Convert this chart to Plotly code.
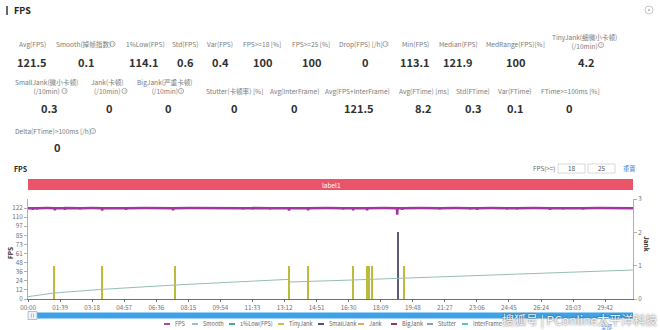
import plotly.graph_objects as go

# ---------------- data ----------------
# summary statistics (label, value)
row1_labels = ["Avg(FPS)", "Smooth(掉帧指数)", "1%Low(FPS)", "Std(FPS)", "Var(FPS)",
               "FPS>=18 [%]", "FPS>=25 [%]", "Drop(FPS) [/h]", "Min(FPS)",
               "Median(FPS)", "MedRange(FPS)[%]", "TinyJank(细微小卡顿)<br>(/10min)"]
row1_values = [121.5, 0.1, 114.1, 0.6, 0.4, 100, 100, 0, 113.1, 121.9, 100, 4.2]

row2_labels = ["SmallJank(微小卡顿)<br>(/10min)", "Jank(卡顿)<br>(/10min)",
               "BigJank(严重卡顿)<br>(/10min)", "Stutter(卡顿率) [%]", "Avg(InterFrame)",
               "Avg(FPS+InterFrame)", "Avg(FTime) [ms]", "Std(FTime)", "Var(FTime)",
               "FTime>=100ms [%]"]
row2_values = [0.3, 0, 0, 0, 0, 121.5, 8.2, 0.3, 0.1, 0]

row3_labels = ["Delta(FTime)>100ms [/h]"]
row3_values = [0]

# FPS over time (seconds)
fps_time = [0, 14, 15, 16, 27, 28, 29, 60, 82, 83, 84, 113, 114, 115, 160, 161, 162,
            200, 228, 229, 230, 260, 302, 303, 304, 360, 400, 447, 448, 449, 500, 560,
            620, 663, 664, 665, 694, 695, 696, 746, 747, 748, 805, 806, 807, 864, 865,
            866, 920, 972, 973, 974, 1003, 1004, 1005, 1046, 1047, 1048, 1100, 1139,
            1140, 1141, 1154, 1155, 1156, 1210, 1271, 1272, 1273, 1320, 1364, 1365,
            1366, 1386, 1387, 1388, 1430, 1478, 1479, 1480, 1509, 1510, 1511, 1560,
            1611, 1612, 1613, 1651, 1652, 1653, 1713, 1714, 1715, 1760, 1820, 1868]
fps_value = [121.8, 121.9, 119.6, 121.9, 121.9, 120.2, 121.9, 122.0, 121.9, 119.1, 121.9,
             121.9, 119.8, 122.0, 121.9, 120.4, 121.9, 122.0, 121.9, 118.7, 121.9, 121.9,
             121.9, 119.9, 121.9, 122.0, 121.9, 121.9, 119.0, 121.9, 122.0, 121.9, 121.9,
             121.9, 120.1, 121.9, 121.9, 120.3, 122.0, 121.9, 120.0, 121.9, 121.9, 118.5,
             121.9, 121.9, 119.0, 121.9, 122.0, 121.9, 120.4, 121.9, 121.9, 119.2, 121.9,
             121.9, 118.9, 121.9, 122.0, 121.9, 113.1, 121.9, 121.9, 119.6, 121.9, 122.0,
             121.9, 120.2, 121.9, 122.0, 121.9, 120.0, 121.9, 121.9, 119.8, 121.9, 122.0,
             121.9, 120.3, 121.9, 121.9, 120.0, 121.9, 122.0, 121.9, 119.7, 121.9, 121.9,
             120.1, 121.9, 121.9, 120.2, 121.9, 122.0, 121.9, 121.9]

# smooth index (right axis)
smooth_time = [0, 80, 229, 454, 806, 810, 1000, 1272, 1500, 1868]
smooth_value = [0.07, 0.18, 0.29, 0.42, 0.59, 0.51, 0.57, 0.67, 0.75, 0.87]

# jank events (right axis, level)
tinyjank_time = [80, 229, 454, 806, 865, 1004, 1047, 1053, 1062, 1161]
tinyjank_level = [1, 1, 1, 1, 1, 1, 1, 1, 1, 1]
smalljank_time = [1142]
smalljank_level = [2]

x_tick_seconds = [0, 99, 198, 297, 396, 495, 594, 693, 792, 891, 990, 1089, 1188,
                  1287, 1386, 1485, 1584, 1683, 1782]
x_tick_labels = ["00:00", "01:39", "03:18", "04:57", "06:36", "08:15", "09:54", "11:33",
                 "13:12", "14:51", "16:30", "18:09", "19:48", "21:27", "23:06", "24:45",
                 "26:24", "28:03", "29:42"]
fps_tick_values = [0, 12.2, 24.4, 36.6, 48.8, 61.0, 73.2, 85.4, 97.6, 109.8, 122.0]
fps_tick_labels = ["0", "12", "24", "36", "48", "61", "73", "85", "97", "110", "122"]
jank_tick_values = [0, 1, 2, 3]

legend_names = ["FPS", "Smooth", "1%Low(FPS)", "TinyJank", "SmallJank", "Jank",
                "BigJank", "Stutter", "InterFrame"]

# ---------------- styling ----------------
FONT = "Noto Sans CJK SC"
COLORS = {
    "FPS": "#a3359f", "Smooth": "#95bdb4", "1%Low(FPS)": "#2fa58c",
    "TinyJank": "#bdbb3c", "SmallJank": "#3c3c80", "Jank": "#e0a24e",
    "BigJank": "#8c1f5a", "Stutter": "#7e93a3", "InterFrame": "#3fc7a2",
}
AXIS = "#6e7079"

W, H = 660, 330
L, R, T, B = 28, 27, 199, 31
PW, PH = W - L - R, H - T - B


def px(x):
    return (x - L) / PW


def py(y):
    return (H - B - y) / PH


fig = go.Figure()

fig.add_trace(go.Bar(x=tinyjank_time, y=tinyjank_level, yaxis="y2", width=4,
                     marker=dict(color=COLORS["TinyJank"], line=dict(width=0)),
                     name="TinyJank"))
fig.add_trace(go.Bar(x=smalljank_time, y=smalljank_level, yaxis="y2", width=4,
                     marker=dict(color="#5b5b76", line=dict(width=0)),
                     name="SmallJank"))
fig.add_trace(go.Scatter(x=smooth_time, y=smooth_value, yaxis="y2", mode="lines",
                         line=dict(color=COLORS["Smooth"], width=1), name="Smooth"))
fig.add_trace(go.Scatter(x=fps_time, y=fps_value, mode="lines",
                         line=dict(color=COLORS["FPS"], width=2.5), name="FPS"))

annotations = []
shapes = []


def text(x, y, s, size=7, color="#777", bold=False, xanchor="center", angle=0):
    annotations.append(dict(
        x=px(x), y=py(y), xref="paper", yref="paper", text=f"<b>{s}</b>" if bold else s,
        showarrow=False, xanchor=xanchor, yanchor="middle", textangle=angle,
        font=dict(family=FONT, size=size, color=color)))


def help_icon(x, y):
    r = 2.6
    shapes.append(dict(type="circle", xref="paper", yref="paper",
                       x0=px(x - r), x1=px(x + r), y0=py(y + r), y1=py(y - r),
                       line=dict(color="#999", width=0.8)))
    text(x, y, "?", size=4.5, color="#888")


# page header
shapes.append(dict(type="line", xref="paper", yref="paper", x0=px(7), x1=px(7),
                   y0=py(15), y1=py(6), line=dict(color="#333", width=1.5)))
text(12, 10, "FPS", size=9, color="#222", bold=True, xanchor="left")
shapes.append(dict(type="circle", xref="paper", yref="paper", x0=px(645), x1=px(653),
                   y0=py(14), y1=py(6), line=dict(color="#c8c8c8", width=1)))
shapes.append(dict(type="circle", xref="paper", yref="paper", x0=px(648.3), x1=px(649.7),
                   y0=py(10.7), y1=py(9.3), fillcolor="#555", line=dict(width=0)))

# statistics block
row1_label_x = [32, 83, 145, 185, 220, 262, 311, 361, 415, 458, 515, 584]
row1_value_x = [32, 86, 144, 185, 220, 262, 311, 365, 415, 458, 515, 586]
row2_label_x = [46, 107, 165, 234, 294, 357, 424, 473, 515, 570]
row2_value_x = [49, 110, 168, 234, 294, 359, 423, 473, 515, 569]
rows = [
    (row1_labels, row1_values, row1_label_x, row1_value_x, 44, 41, 62),
    (row2_labels, row2_values, row2_label_x, row2_value_x, 91, 86.5, 108),
    (row3_labels, row3_values, [53], [57], 131, 131, 147),
]
for labels, values, lx, vx, y_single, y_double, y_val in rows:
    for lab, val, xl, xv in zip(labels, values, lx, vx):
        text(xl, y_double if "<br>" in lab else y_single, lab, size=6.6, color="#7a7a7a")
        text(xv, y_val, f"{val:g}", size=11, color="#303030", bold=True)

for hx, hy in [(112.5, 44), (385.5, 44), (601, 45), (64.5, 91), (124.5, 91),
               (181, 91), (93, 131)]:
    help_icon(hx, hy)

# chart header and threshold controls
text(12, 169, "FPS", size=7, color="#222", bold=True, xanchor="left")
text(531, 168.5, "FPS(>=)", size=6.3, color="#666", xanchor="left")
for x0, x1, val in [(558, 585, "18"), (588, 615, "25")]:
    shapes.append(dict(type="rect", xref="paper", yref="paper", x0=px(x0), x1=px(x1),
                       y0=py(173), y1=py(164), fillcolor="white",
                       line=dict(color="#cfcfcf", width=0.8)))
    text((x0 + x1) / 2, 168.5, val, size=6.3, color="#555")
text(629, 168.5, "重置", size=6.3, color="#3b82d6")

# label band above the plot
shapes.append(dict(type="rect", xref="paper", yref="paper", x0=px(28), x1=px(633),
                   y0=py(190), y1=py(179), fillcolor="#ea5469", line=dict(width=0)))
text(331, 184.5, "label1", size=6.5, color="white")

# axis titles
text(10, 253, "FPS", size=6.5, color="#333", bold=True, angle=-90)
text(647, 244, "Jank", size=6.5, color="#333", bold=True, angle=90)

# range slider strip
shapes.append(dict(type="rect", xref="paper", yref="paper", x0=px(29), x1=px(633),
                   y0=py(318.5), y1=py(312.5), fillcolor="#3da2e8", line=dict(width=0)))
shapes.append(dict(type="rect", xref="paper", yref="paper", x0=px(28), x1=px(37),
                   y0=py(319.5), y1=py(311.5), fillcolor="#eef3f8",
                   line=dict(color="#9fb3c8", width=0.8)))
for lx in (31.5, 33.5):
    shapes.append(dict(type="line", xref="paper", yref="paper", x0=px(lx), x1=px(lx),
                       y0=py(317.5), y1=py(313.5), line=dict(color="#8aa0b5", width=0.6)))
text(607, 327, "全部", size=5.5, color="#3b82d6")

# legend
legend_icon_x = [164, 192, 229, 278, 318, 358, 391, 427, 462]
for name, x0 in zip(legend_names, legend_icon_x):
    shapes.append(dict(type="line", xref="paper", yref="paper", x0=px(x0), x1=px(x0 + 6),
                       y0=py(324), y1=py(324),
                       line=dict(color=COLORS[name], width=1.8)))
    text(x0 + 8.5, 324, name, size=5.6, color="#666", xanchor="left")

# source mark
annotations.append(dict(
    x=px(579), y=py(320), xref="paper", yref="paper", text="搜狐号 | PConline太平洋科技",
    showarrow=False, xanchor="center", yanchor="middle",
    font=dict(family=FONT, size=12, color="rgba(255,255,255,0.92)",
              shadow="0px 0px 2px #333")))

fig.update_layout(
    width=W, height=H, autosize=False,
    margin=dict(l=L, r=R, t=T, b=B, pad=0),
    paper_bgcolor="white", plot_bgcolor="white",
    showlegend=False, barmode="overlay", bargap=0,
    font=dict(family=FONT, size=6.5, color=AXIS),
    xaxis=dict(range=[0, 1868], tickvals=x_tick_seconds, ticktext=x_tick_labels,
               showgrid=False, zeroline=False, showline=True, linecolor=AXIS,
               linewidth=1, ticks="outside", ticklen=2, tickcolor=AXIS,
               tickfont=dict(size=6.3, color=AXIS)),
    yaxis=dict(range=[0, 134.2], tickvals=fps_tick_values, ticktext=fps_tick_labels,
               showgrid=False, zeroline=False, showline=True, linecolor="#b0b0b0",
               linewidth=1, ticks="outside", ticklen=3, tickcolor="#b0b0b0",
               tickfont=dict(size=6.3, color=AXIS)),
    yaxis2=dict(range=[0, 3], tickvals=jank_tick_values, overlaying="y", side="right",
                showgrid=False, zeroline=False, showline=True, linecolor="#b0b0b0",
                linewidth=1, ticks="outside", ticklen=3, tickcolor="#b0b0b0",
                tickfont=dict(size=6.3, color=AXIS)),
    annotations=annotations, shapes=shapes,
)

fig.write_html("out.html")
